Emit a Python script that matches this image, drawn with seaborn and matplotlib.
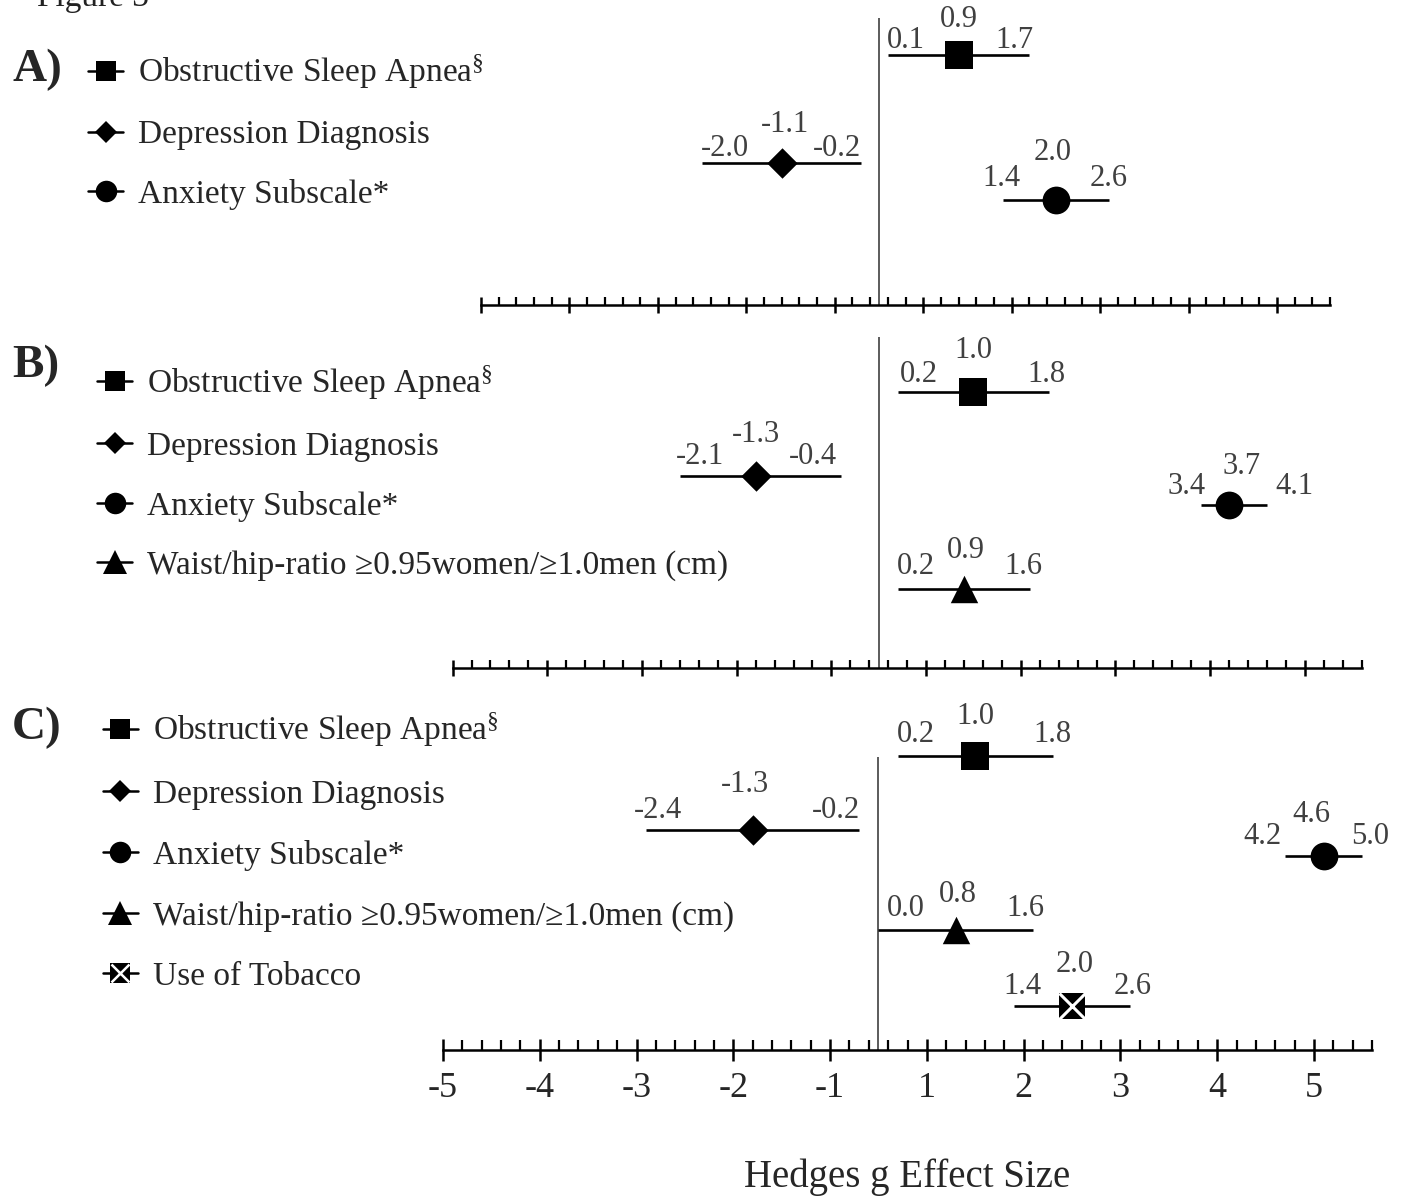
import numpy as np
import pandas as pd
import seaborn as sns
import matplotlib.pyplot as plt
from matplotlib.lines import Line2D
from matplotlib.legend_handler import HandlerTuple
from matplotlib.ticker import FixedLocator

# ---- data -------------------------------------------------------------
osa = 'Obstructive Sleep Apnea$^{§}$'
dep = 'Depression Diagnosis'
anx = 'Anxiety Subscale*'
whr = 'Waist/hip-ratio ≥0.95women/≥1.0men (cm)'
tob = 'Use of Tobacco'

labels_a = [osa, dep, anx]
est_a = [0.9, -1.1, 2.0]
lo_a = [0.1, -2.0, 1.4]
hi_a = [1.7, -0.2, 2.6]

labels_b = [osa, dep, anx, whr]
est_b = [1.0, -1.3, 3.7, 0.9]
lo_b = [0.2, -2.1, 3.4, 0.2]
hi_b = [1.8, -0.4, 4.1, 1.6]

labels_c = [osa, dep, anx, whr, tob]
est_c = [1.0, -1.3, 4.6, 0.8, 2.0]
lo_c = [0.2, -2.4, 4.2, 0.0, 1.4]
hi_c = [1.8, -0.2, 5.0, 1.6, 2.6]

tick_labels = ['-5', '-4', '-3', '-2', '-1', '1', '2', '3', '4', '5']

# ---- layout (pixels) ----------------------------------------------------
W, H = 1404, 1197
markers = {osa: 's', dep: 'D', anx: 'o', whr: '^', tob: 's'}
msize = {osa: 380, dep: 240, anx: 400, whr: 390, tob: 370}
leg_ms = {osa: 14, dep: 11.5, anx: 15.5, whr: 17, tob: 14}

panels = [
    dict(labels=labels_a, est=est_a, lo=lo_a, hi=hi_a,
         box=(481, 1330, 18, 305), rows=[55, 163, 200],
         lo_dx=[18, 23, -1], hi_dx=[-15, -24, 0], est_dx=[0, 3, -3],
         ci_dy=[-15, -15, -22], est_dy=[-36, -39, -47],
         leg=(88, 131.5), spacing=0.86, letter=('A)', 70)),
    dict(labels=labels_b, est=est_b, lo=lo_b, hi=hi_b,
         box=(452.6, 1361.7, 337, 668), rows=[392, 476, 505, 589],
         lo_dx=[21, 20, -14, 18], hi_dx=[-3, -28, 27, -7], est_dx=[0, 0, 12, 2],
         ci_dy=[-18, -20, -19, -22], est_dy=[-41, -42, -38, -38],
         leg=(97, 472.5), spacing=0.87, letter=('B)', 366)),
    dict(labels=labels_c, est=est_c, lo=lo_c, hi=hi_c,
         box=(443, 1372, 757, 1050), rows=[756, 830, 856, 930, 1006],
         lo_dx=[18, 12, -22, 27, 8], hi_dx=[0, -23, 8, -8, 3], est_dx=[0, -8, -12, 2, 3],
         ci_dy=[-21, -19, -19, -22, -20], est_dy=[-40, -46, -42, -36, -42],
         leg=(103, 851.5), spacing=0.9, letter=('C)', 728)),
]

sns.set_theme(style='white')
plt.rcParams['font.family'] = ['Liberation Serif', 'DejaVu Serif']
plt.rcParams['mathtext.default'] = 'regular'
plt.rcParams['axes.unicode_minus'] = False

fig = plt.figure(figsize=(W / 100, H / 100), dpi=100)
fig.text(37 / W, 1 - 6 / H, 'Figure 3', fontsize=24, color='#222222', va='baseline')

major = [-4.5, -3.5, -2.5, -1.5, -0.5, 0.5, 1.5, 2.5, 3.5, 4.5]
minor = np.round(np.arange(-4.5, 5.11, 0.2), 2)

for i, p in enumerate(panels):
    left, right, top, bottom = p['box']
    ax = fig.add_axes([left / W, 1 - bottom / H, (right - left) / W, (bottom - top) / H])
    ax.set_xlim(-4.5, 5.1)
    ax.set_ylim(bottom, top)

    df = pd.DataFrame({'label': p['labels'], 'est': p['est'], 'lo': p['lo'],
                       'hi': p['hi'], 'row': p['rows']})

    ax.axvline(0, color='#404040', lw=1.2, zorder=1)
    ax.hlines(df['row'], df['lo'], df['hi'], color='black', lw=1.9, zorder=2, clip_on=False)
    for _, r in df.iterrows():
        sns.scatterplot(x=[r['est']], y=[r['row']], marker=markers[r['label']],
                        s=msize[r['label']], color='black', linewidth=0,
                        ax=ax, zorder=3, clip_on=False, legend=False)
        if r['label'] == tob:
            ax.scatter([r['est']], [r['row']], marker='x', s=msize[tob] * 0.95,
                       color='white', linewidths=2.2, zorder=4, clip_on=False)

    for j, r in df.iterrows():
        kw = dict(textcoords='offset pixels', ha='center', va='center',
                  fontsize=22, color='#404040', annotation_clip=False)
        ax.annotate(f"{r['lo']:.1f}", (r['lo'], r['row']),
                    xytext=(p['lo_dx'][j], -p['ci_dy'][j]), **kw)
        ax.annotate(f"{r['hi']:.1f}", (r['hi'], r['row']),
                    xytext=(p['hi_dx'][j], -p['ci_dy'][j]), **kw)
        ax.annotate(f"{r['est']:.1f}", (r['est'], r['row']),
                    xytext=(p['est_dx'][j], -p['est_dy'][j]), **kw)

    # axis styling
    for s in ['top', 'left', 'right']:
        ax.spines[s].set_visible(False)
    ax.spines['bottom'].set_color('black')
    ax.spines['bottom'].set_linewidth(1.8)
    ax.set_yticks([])
    ax.xaxis.set_major_locator(FixedLocator(major))
    ax.xaxis.set_minor_locator(FixedLocator(minor))
    ax.set_xticklabels(tick_labels)
    big = i == 2
    ax.tick_params(axis='x', which='major', direction='inout', length=16 if big else 11,
                   width=1.8, color='black', labelsize=26, pad=8,
                   labelbottom=big, bottom=True)
    ax.tick_params(axis='x', which='minor', direction='in', length=7 if big else 5.5,
                   width=1.6, color='black', bottom=True)
    ax.set_xlabel('')
    if big:
        ax.set_xlabel('Hedges g Effect Size', fontsize=28, labelpad=38)

    # legend
    handles = []
    for lab in p['labels']:
        h = Line2D([], [], color='black', lw=1.8, marker=markers[lab],
                   markersize=leg_ms[lab], markeredgewidth=0)
        if lab == tob:
            hx = Line2D([], [], color='white', lw=0, marker='x',
                        markersize=leg_ms[lab] * 0.95, markeredgewidth=1.8)
            h = (h, hx)
        handles.append(h)
    ax.legend(handles, p['labels'], loc='center left',
              bbox_to_anchor=(p['leg'][0] / W, 1 - p['leg'][1] / H),
              bbox_transform=fig.transFigure, frameon=False, fontsize=24,
              borderpad=0, borderaxespad=0, handlelength=1.05, handletextpad=0.45,
              labelspacing=p['spacing'],
              handler_map={tuple: HandlerTuple(ndivide=1, pad=0)})

    fig.text(12 / W, 1 - p['letter'][1] / H, p['letter'][0], fontsize=34,
             fontweight='bold', va='center', ha='left')

fig.savefig('out.png', dpi=100)
